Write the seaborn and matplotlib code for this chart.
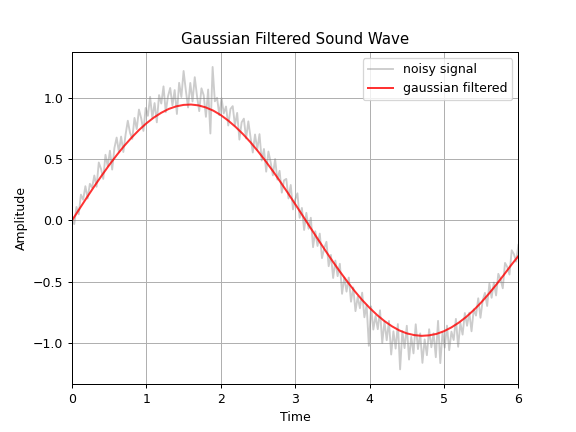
import numpy as np
import pandas as pd
import matplotlib
matplotlib.use("Agg")
import matplotlib.pyplot as plt
import seaborn as sns

# time samples of the noisy signal (0 to 6, step 0.03)
noisy_time = np.linspace(0, 6, 201)
noisy_values = [
    0.000, -0.030, 0.110, 0.050, 0.210, 0.169, 0.279, 0.178, 0.298, 0.267,
    0.366, 0.274, 0.472, 0.420, 0.338, 0.535, 0.442, 0.568, 0.414, 0.590,
    0.675, 0.559, 0.683, 0.557, 0.699, 0.812, 0.713, 0.664, 0.835, 0.744,
    0.903, 0.832, 0.729, 0.916, 0.852, 1.007, 0.832, 0.956, 0.799, 1.021,
    0.952, 1.092, 0.882, 1.011, 1.079, 0.936, 1.062, 0.867, 1.121, 1.005,
    1.217, 1.059, 0.920, 1.120, 0.969, 1.167, 1.014, 0.890, 1.076, 1.020,
    0.844, 1.066, 0.708, 1.250, 0.970, 0.999, 0.857, 0.995, 0.872, 0.928,
    0.773, 0.908, 0.931, 0.774, 0.876, 0.658, 0.799, 0.829, 0.668, 0.807,
    0.675, 0.553, 0.700, 0.577, 0.703, 0.488, 0.582, 0.397, 0.561, 0.474,
    0.367, 0.500, 0.332, 0.404, 0.226, 0.327, 0.338, 0.179, 0.289, 0.090,
    0.171, 0.221, 0.021, 0.102, -0.078, 0.062, -0.068, 0.022, -0.218, -0.088,
    -0.208, -0.107, -0.307, -0.226, -0.174, -0.373, -0.281, -0.469, -0.327, -0.454,
    -0.353, -0.598, -0.464, -0.580, -0.465, -0.662, -0.546, -0.739, -0.622, -0.715,
    -0.588, -0.789, -0.690, -1.021, -0.700, -0.889, -0.778, -0.886, -0.732, -0.998,
    -0.822, -0.976, -0.819, -1.092, -0.903, -1.044, -0.844, -1.213, -0.902, -1.040,
    -0.858, -1.133, -0.948, -1.083, -0.846, -1.048, -0.920, -1.160, -0.969, -1.098,
    -0.886, -1.033, -0.919, -1.114, -0.818, -1.162, -0.914, -1.036, -0.857, -1.057,
    -0.906, -0.974, -0.802, -1.029, -0.835, -0.930, -0.754, -0.858, -0.751, -0.903,
    -0.723, -0.775, -0.634, -0.793, -0.652, -0.590, -0.697, -0.514, -0.630, -0.506,
    -0.611, -0.435, -0.479, -0.553, -0.346, -0.379, -0.441, -0.243, -0.275, -0.336,
    -0.199,
]

# time samples of the filtered curve (0 to 6, step 0.1)
filtered_time = np.linspace(0, 6, 61)
filtered_values = [
    0.000, 0.094, 0.187, 0.278, 0.366, 0.451, 0.531, 0.606, 0.674, 0.736,
    0.791, 0.838, 0.877, 0.908, 0.929, 0.941, 0.944, 0.937, 0.920, 0.894,
    0.858, 0.813, 0.761, 0.702, 0.636, 0.563, 0.485, 0.402, 0.315, 0.225,
    0.133, 0.039, -0.055, -0.148, -0.240, -0.330, -0.416, -0.498, -0.576, -0.648,
    -0.712, -0.770, -0.820, -0.862, -0.896, -0.920, -0.934, -0.940, -0.936, -0.924,
    -0.902, -0.871, -0.832, -0.785, -0.730, -0.668, -0.599, -0.525, -0.447, -0.366,
    -0.290,
]

noisy_df = pd.DataFrame({"Time": noisy_time, "Amplitude": noisy_values})
filt_df = pd.DataFrame({"Time": filtered_time, "Amplitude": filtered_values})

fig, ax = plt.subplots(figsize=(6.4, 4.8), dpi=90)
sns.lineplot(data=noisy_df, x="Time", y="Amplitude", ax=ax, color="gray",
             alpha=0.4, linewidth=1.5, label="noisy signal", sort=False,
             estimator=None)
sns.lineplot(data=filt_df, x="Time", y="Amplitude", ax=ax, color="red",
             alpha=0.8, linewidth=1.6, label="gaussian filtered", sort=False,
             estimator=None)
ax.set_xlim(0, 6)
ax.set_title("Gaussian Filtered Sound Wave")
ax.set_xlabel("Time")
ax.set_ylabel("Amplitude")
ax.grid(True)
ax.legend(loc="upper right")
fig.savefig("out.png", dpi=90)
